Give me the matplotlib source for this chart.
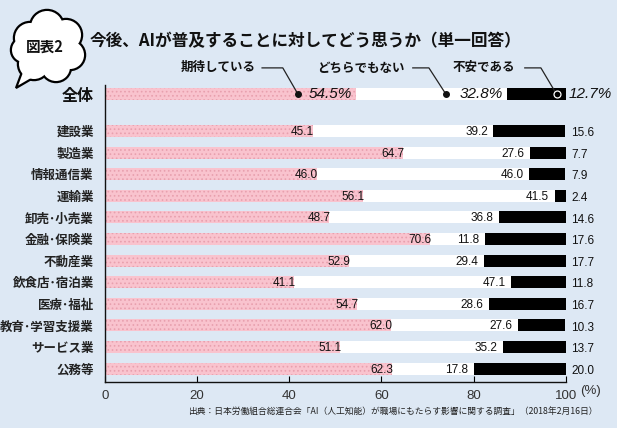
import matplotlib.pyplot as plt
from matplotlib.patches import Circle, Polygon

plt.rcParams['font.family'] = ['Noto Sans CJK JP', 'DejaVu Sans']

# data
categories = ['建設業', '製造業', '情報通信業', '運輸業', '卸売･小売業', '金融･保険業',
              '不動産業', '飲食店･宿泊業', '医療･福祉', '教育･学習支援業', 'サービス業', '公務等']
expect = [45.1, 64.7, 46.0, 56.1, 48.7, 70.6, 52.9, 41.1, 54.7, 62.0, 51.1, 62.3]
neutral = [39.2, 27.6, 46.0, 41.5, 36.8, 11.8, 29.4, 47.1, 28.6, 27.6, 35.2, 17.8]
anxious = [15.6, 7.7, 7.9, 2.4, 14.6, 17.6, 17.7, 11.8, 16.7, 10.3, 13.7, 20.0]
total_label = '全体'
total = [54.5, 32.8, 12.7]
series_names = ['期待している', 'どちらでもない', '不安である']

bg = '#dde8f4'
pink = '#f9c3ce'
dot = '#e8a0ae'
num_font = 'Liberation Sans'

fig = plt.figure(figsize=(6.17, 4.28), dpi=100, facecolor=bg)
ax = fig.add_axes([0.170, 0.1075, 0.747, 0.694], facecolor=bg)

ys = list(range(len(categories)))
y_total = -1.7
h = 0.56
plt.rcParams['hatch.linewidth'] = 0.7

def draw_row(y, a, b, c):
    ax.barh(y, a, height=h, color=pink, edgecolor=dot, hatch='....', linewidth=0)
    ax.barh(y, b, left=a, height=h, color='white', linewidth=0)
    ax.barh(y, c, left=a + b, height=h, color='black', linewidth=0)

for y, a, b, c in zip(ys, expect, neutral, anxious):
    draw_row(y, a, b, c)
    ax.text(a + 0.3, y + 0.05, f'{a:.1f}', ha='right', va='center', fontsize=8.5,
            family=num_font, color='#111')
    ax.text(a + b - 1.2, y + 0.05, f'{b:.1f}', ha='right', va='center', fontsize=8.5,
            family=num_font, color='#111')
    ax.text(101.2, y + 0.1, f'{c:.1f}', ha='left', va='center', fontsize=8.5,
            family=num_font, color='#111')

draw_row(y_total, *total)
ax.text(total[0] - 1, y_total, f'{total[0]}%', ha='right', va='center', fontsize=11,
        family=num_font, style='italic', color='#111')
ax.text(total[0] + total[1] - 1, y_total, f'{total[1]}%', ha='right', va='center', fontsize=11,
        family=num_font, style='italic', color='#111')
ax.text(100.6, y_total, f'{total[2]}%', ha='left', va='center', fontsize=11,
        family=num_font, style='italic', color='#111')

# legend callouts
callouts = [(32.8, 34.1, 38.6, 41.9), (65.1, 66.8, 70.3, 74.0), (88.9, 91.1, 94.6, 98.0)]
y_lab = -2.92
for name, (tx, x0, x1, x2) in zip(series_names, callouts):
    ax.text(tx, y_lab, name, ha='right', va='center', fontsize=9, fontweight='bold',
            color='#111', clip_on=False)
    ax.plot([x0, x1, x2], [y_lab, y_lab, y_total], color='#222', lw=0.9, clip_on=False)
for xd in (41.9, 74.0):
    ax.plot(xd, y_total, 'o', ms=4, color='#111', clip_on=False)
ax.plot(98.0, y_total, 'o', ms=5, mfc='black', mec='white', mew=0.9, clip_on=False)

ax.set_yticks(ys + [y_total])
ax.set_yticklabels(categories + [total_label])
for lab in ax.get_yticklabels():
    lab.set_fontweight('bold')
    lab.set_fontsize(9)
    lab.set_color('#222')
ax.get_yticklabels()[-1].set_fontsize(11.5)
ax.get_yticklabels()[-1].set_color('#111')
ax.tick_params(axis='y', length=0, pad=8)

ax.set_xlim(0, 100)
ax.set_ylim(11.62, -2.13)
ax.set_xticks([0, 20, 40, 60, 80, 100])
ax.set_xticklabels(['0', '20', '40', '60', '80', '100'], family=num_font, fontsize=9.5,
                   color='#333')
ax.tick_params(axis='x', direction='in', length=4, width=0.8, pad=6)
for s in ['top', 'right']:
    ax.spines[s].set_visible(False)
for s in ['left', 'bottom']:
    ax.spines[s].set_linewidth(1.0)
    ax.spines[s].set_color('#111')

# overlay in pixel coordinates for header, unit and source
ov = fig.add_axes([0, 0, 1, 1], facecolor='none')
ov.set_xlim(0, 617)
ov.set_ylim(428, 0)
ov.axis('off')
ov.text(580, 391, '(%)', ha='left', va='center', fontsize=9.5, family=num_font, color='#333')
circles = [(30, 38, 15), (47, 27, 16), (66, 35, 15), (70, 55, 14), (56, 67, 14),
           (34, 64, 15), (24, 50, 12), (48, 48, 20)]
tail = [(22, 72), (16, 88), (40, 74)]
for cx, cy, r in circles:
    ov.add_patch(Circle((cx, cy), r, fc='white', ec='black', lw=3.2))
ov.add_patch(Polygon(tail, closed=True, fc='white', ec='black', lw=1.6))
for cx, cy, r in circles:
    ov.add_patch(Circle((cx, cy), r, fc='white', ec='none', hatch='....',
                        edgecolor='#d8d8d8', lw=0))
ov.text(45, 47, '図表2', ha='center', va='center', fontsize=10.5, fontweight='bold',
        color='#111')
ov.text(90, 41, '今後、AIが普及することに対してどう思うか（単一回答）', ha='left', va='center',
        fontsize=12, fontweight='bold', color='#111')
ov.text(598, 412, '出典：日本労働組合総連合会「AI（人工知能）が職場にもたらす影響に関する調査」（2018年2月16日）',
        ha='right', va='center', fontsize=6.3, color='#222')

fig.savefig('out.png', dpi=100, facecolor=bg)
